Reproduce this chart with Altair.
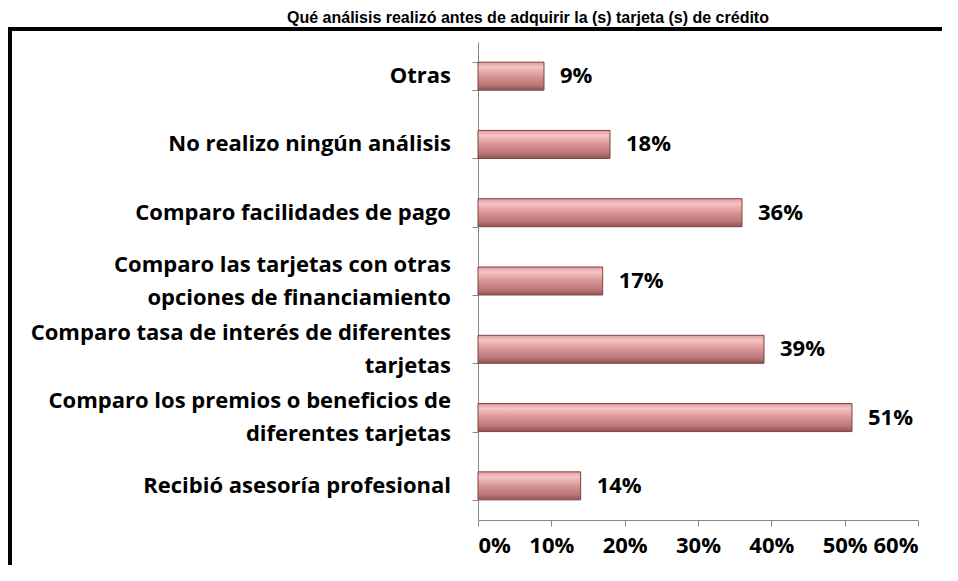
import altair as alt
import pandas as pd

categories = [
    "Otras",
    "No realizo ningún análisis ",
    "Comparo facilidades de pago",
    "Comparo las tarjetas con otras|opciones de financiamiento",
    "Comparo tasa de interés de diferentes|tarjetas",
    "Comparo los premios o beneficios de|diferentes tarjetas",
    "Recibió asesoría   profesional",
]
values = [9, 18, 36, 17, 39, 51, 14]
x_ticks = [0, 10, 20, 30, 40, 50, 60]
title_text = "Qué análisis realizó antes de adquirir la (s) tarjeta (s) de crédito"

df = pd.DataFrame({"cat": categories, "v": values})
dummy = pd.DataFrame({"a": [0]})

FONT = "Open Sans"
FS = 22
HALF_LINE = 16.5

frame = alt.Chart(dummy).mark_rect(
    fill="transparent", stroke="black", strokeWidth=4
).encode(
    x=alt.value(-468), x2=alt.value(520), y=alt.value(-13), y2=alt.value(560)
)

title = alt.Chart(dummy).mark_text(
    text=title_text, font="Liberation Sans", fontWeight="bold", fontSize=16,
    align="center", baseline="alphabetic", color="black"
).encode(x=alt.value(50), y=alt.value(-19))

grad = alt.Gradient(
    gradient="linear",
    stops=[
        alt.GradientStop(color="#e09c9c", offset=0),
        alt.GradientStop(color="#f6c4c4", offset=0.18),
        alt.GradientStop(color="#d89494", offset=0.5),
        alt.GradientStop(color="#bd7878", offset=0.8),
        alt.GradientStop(color="#905454", offset=1),
    ],
    x1=0, x2=0, y1=0, y2=1,
)

y_enc = alt.Y(
    "cat:N", sort=categories, title=None,
    scale=alt.Scale(paddingInner=0.59, paddingOuter=0.295),
    axis=alt.Axis(
        labels=False,
        tickBand="extent", tickSize=6, tickColor="#888888",
        domainColor="#888888", grid=False,
    ),
)

bars = alt.Chart(df).mark_bar(
    color=grad, stroke="#7a4444", strokeWidth=1
).encode(
    x=alt.X(
        "v:Q", title=None,
        scale=alt.Scale(domain=[0, 60], nice=False),
        axis=alt.Axis(
            values=x_ticks, labelExpr="datum.value + '%'",
            labelFont=FONT, labelFontWeight="bold", labelFontSize=FS,
            labelColor="black", labelPadding=9,
            tickSize=6, tickColor="#888888", domainColor="#888888",
            grid=False,
        ),
    ),
    y=y_enc,
)

labels = alt.Chart(df).transform_calculate(
    lab="datum.v + '%'"
).mark_text(
    align="left", baseline="middle", dx=16, font=FONT, fontWeight="bold",
    fontSize=FS, color="black"
).encode(
    x="v:Q", y=alt.Y("cat:N", sort=categories), text="lab:N"
)

txt_kw = dict(align="right", baseline="middle", font=FONT, fontWeight="bold",
              fontSize=FS, color="black")

base_cat = alt.Chart(df).transform_calculate(
    l1="split(datum.cat, '|')[0]",
    l2="split(datum.cat, '|')[1]",
    multi="indexof(datum.cat, '|') >= 0",
)

single = base_cat.transform_filter("!datum.multi").mark_text(**txt_kw).encode(
    x=alt.value(-27), y=alt.Y("cat:N", sort=categories), text="l1:N"
)
first = base_cat.transform_filter("datum.multi").mark_text(
    dy=-HALF_LINE, **txt_kw
).encode(x=alt.value(-27), y=alt.Y("cat:N", sort=categories), text="l1:N")
second = base_cat.transform_filter("datum.multi").mark_text(
    dy=HALF_LINE, **txt_kw
).encode(x=alt.value(-27), y=alt.Y("cat:N", sort=categories), text="l2:N")

chart = alt.layer(frame, title, bars, labels, single, first, second).properties(
    width=440, height=478,
    background="white",
    autosize=alt.AutoSizeParams(type="none"),
    padding={"left": 470, "top": 34, "right": 24, "bottom": 45},
).configure_view(stroke=None, strokeWidth=0).configure_axis(grid=False)

chart.save("out.html", embed_options={"renderer": "svg", "actions": False})
